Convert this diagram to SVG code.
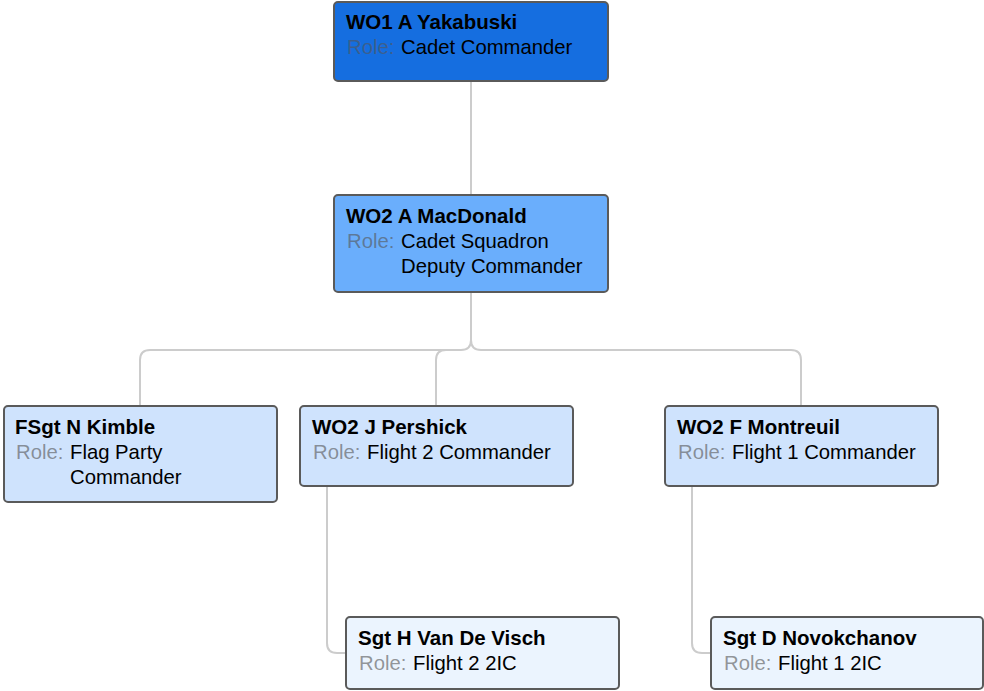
<svg xmlns="http://www.w3.org/2000/svg" width="984" height="691" viewBox="0 0 984 691">
<style>
.box{stroke:#5a5a5a;stroke-width:2}
.t{font-family:"Liberation Sans",Arial,sans-serif;font-size:20.5px;font-weight:bold;fill:#000}
.r{font-family:"Liberation Sans",Arial,sans-serif;font-size:20.3px;fill:#000}
.l{fill:#555;fill-opacity:0.6}
.c{fill:none;stroke:#cccccc;stroke-width:2}
</style>
<rect width="984" height="691" fill="#fff"/>
<g id="connectors">
<path class="c" d="M471,81 V195"/>
<path class="c" d="M471,292 V340 Q471,350 461,350 H150 Q140,350 140,360 V406"/>
<path class="c" d="M471,292 V340 Q471,350 481,350 H791 Q801,350 801,360 V406"/>
<path class="c" d="M446,350 Q436,350 436,360 V406"/>
<path class="c" d="M327,486 V643 Q327,653 337,653 H346"/>
<path class="c" d="M692,486 V643 Q692,653 702,653 H711"/>
</g>
<g id="n1">
<rect class="box" x="334" y="2" width="274" height="79" rx="4" fill="#156ee0"/>
<text class="t" x="346" y="29">WO1 A Yakabuski</text>
<text class="r" x="347" y="54"><tspan class="l">Role:</tspan><tspan x="401">Cadet Commander</tspan></text>
</g>
<g id="n2">
<rect class="box" x="334" y="195" width="274" height="97" rx="4" fill="#6aaefc"/>
<text class="t" x="346" y="223">WO2 A MacDonald</text>
<text class="r" x="347" y="248"><tspan class="l">Role:</tspan><tspan x="401">Cadet Squadron</tspan></text>
<text class="r" x="401" y="273">Deputy Commander</text>
</g>
<g id="n3">
<rect class="box" x="4" y="406" width="273" height="96" rx="4" fill="#cfe3fd"/>
<text class="t" x="15" y="434">FSgt N Kimble</text>
<text class="r" x="16" y="459"><tspan class="l">Role:</tspan><tspan x="70">Flag Party</tspan></text>
<text class="r" x="70" y="484">Commander</text>
</g>
<g id="n4">
<rect class="box" x="300" y="406" width="273" height="80" rx="4" fill="#cfe3fd"/>
<text class="t" x="312" y="434">WO2 J Pershick</text>
<text class="r" x="313" y="459"><tspan class="l">Role:</tspan><tspan x="367">Flight 2 Commander</tspan></text>
</g>
<g id="n5">
<rect class="box" x="665" y="406" width="273" height="80" rx="4" fill="#cfe3fd"/>
<text class="t" x="677" y="434">WO2 F Montreuil</text>
<text class="r" x="678" y="459"><tspan class="l">Role:</tspan><tspan x="732">Flight 1 Commander</tspan></text>
</g>
<g id="n6">
<rect class="box" x="346" y="617" width="273" height="72" rx="4" fill="#ebf4fe"/>
<text class="t" x="358" y="645">Sgt H Van De Visch</text>
<text class="r" x="359" y="670"><tspan class="l">Role:</tspan><tspan x="413">Flight 2 2IC</tspan></text>
</g>
<g id="n7">
<rect class="box" x="711" y="617" width="272" height="72" rx="4" fill="#ebf4fe"/>
<text class="t" x="723" y="645">Sgt D Novokchanov</text>
<text class="r" x="724" y="670"><tspan class="l">Role:</tspan><tspan x="778">Flight 1 2IC</tspan></text>
</g>
</svg>
